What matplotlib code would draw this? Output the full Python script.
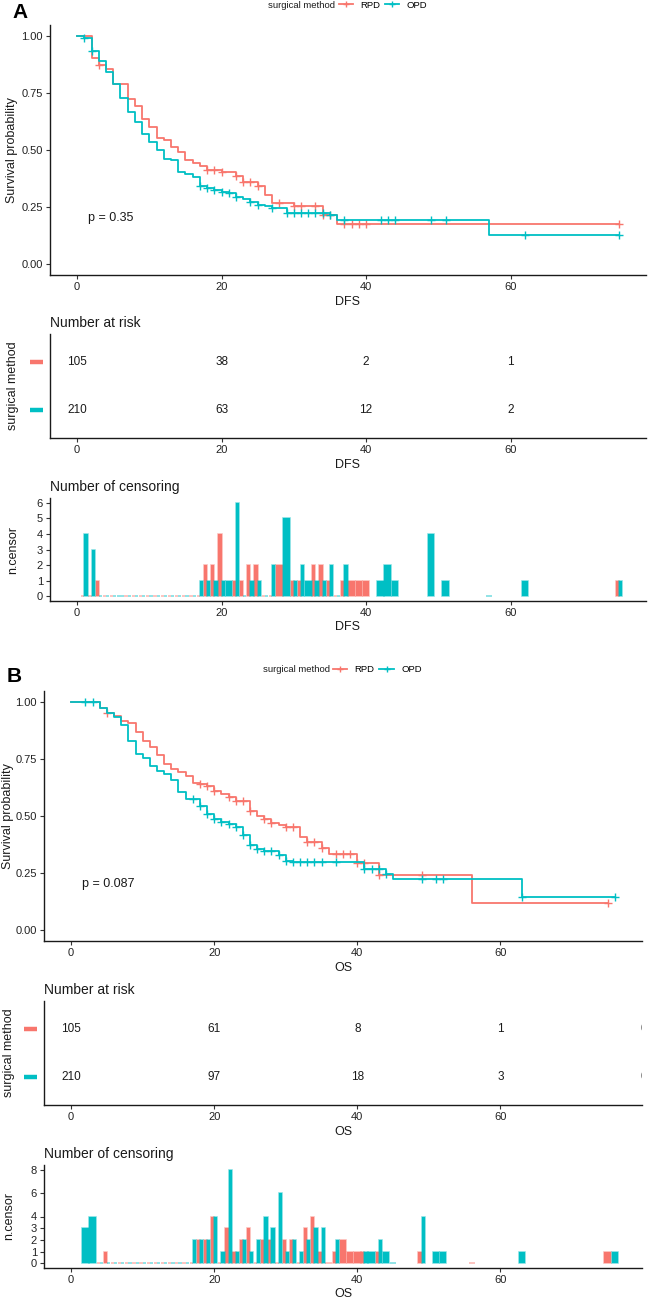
import numpy as np
import matplotlib
matplotlib.use('Agg')
import matplotlib.pyplot as plt
from matplotlib.lines import Line2D
from matplotlib.colors import to_rgba

plt.rcParams['font.family'] = ['Liberation Sans', 'DejaVu Sans']

W, H = 648, 1299
RED = '#F8766D'
CYAN = '#00BFC4'
INK = '#1a1a1a'

# ---------------- panel A : DFS ----------------
a_rpd_time = [1, 2, 3, 4, 5, 7, 8, 9, 10, 11, 12, 13, 14, 15, 16, 17, 18, 19, 20, 22,
              23, 24, 25, 26, 27, 28, 30, 31, 33, 34, 35, 36, 37, 38, 39, 40, 75]
a_rpd_surv = [1.0, 0.905, 0.876, 0.858, 0.790, 0.724, 0.695, 0.638, 0.600, 0.552,
              0.543, 0.514, 0.490, 0.457, 0.443, 0.428, 0.410, 0.410, 0.405, 0.385,
              0.358, 0.358, 0.343, 0.300, 0.268, 0.268, 0.252, 0.252, 0.252, 0.212,
              0.212, 0.175, 0.175, 0.175, 0.175, 0.175, 0.175]
a_rpd_cens = [0, 0, 1, 0, 0, 0, 0, 0, 0, 0, 0, 0, 0, 0, 0, 0, 2, 2, 4, 1,
              1, 2, 2, 0, 0, 2, 1, 1, 2, 2, 1, 0, 1, 1, 1, 1, 1]

a_opd_time = [1, 2, 3, 4, 5, 6, 7, 8, 9, 10, 11, 12, 13, 14, 15, 16, 17, 18, 19, 20,
              21, 22, 23, 24, 25, 26, 27, 29, 30, 31, 32, 33, 34, 35, 36, 37, 42, 43,
              44, 49, 51, 57, 62, 75]
a_opd_surv = [0.995, 0.937, 0.893, 0.845, 0.790, 0.727, 0.667, 0.625, 0.570, 0.535,
              0.500, 0.462, 0.455, 0.405, 0.395, 0.383, 0.340, 0.332, 0.325, 0.315,
              0.313, 0.293, 0.285, 0.270, 0.260, 0.252, 0.245, 0.225, 0.225, 0.225,
              0.225, 0.225, 0.225, 0.215, 0.190, 0.190, 0.190, 0.190, 0.190, 0.190,
              0.190, 0.124, 0.124, 0.124]
a_opd_cens = [4, 3, 0, 0, 0, 0, 0, 0, 0, 0, 0, 0, 0, 0, 0, 0, 1, 1, 1, 1,
              1, 6, 0, 1, 1, 0, 2, 5, 1, 2, 1, 1, 1, 2, 0, 2, 1, 2,
              1, 4, 1, 0, 1, 1]

a_risk_breaks = [0, 20, 40, 60]
a_risk_rpd = [105, 38, 2, 1]
a_risk_opd = [210, 63, 12, 2]
a_pval = 'p = 0.35'

# ---------------- panel B : OS ----------------
b_rpd_time = [4, 5, 6, 7, 8, 9, 10, 11, 12, 13, 14, 15, 16, 17, 18, 19, 20, 21, 22, 23,
              24, 25, 26, 27, 28, 29, 30, 31, 32, 33, 34, 35, 36, 37, 38, 39, 40, 41,
              43, 49, 56, 75]
b_rpd_surv = [0.977, 0.955, 0.940, 0.918, 0.908, 0.868, 0.832, 0.803, 0.767, 0.728,
              0.707, 0.692, 0.678, 0.646, 0.640, 0.634, 0.612, 0.597, 0.583, 0.564,
              0.564, 0.520, 0.502, 0.488, 0.471, 0.460, 0.452, 0.452, 0.408, 0.386,
              0.386, 0.360, 0.335, 0.335, 0.335, 0.335, 0.292, 0.292, 0.240, 0.240,
              0.118, 0.118]
b_rpd_cens = [0, 1, 0, 0, 0, 0, 0, 0, 0, 0, 0, 0, 0, 0, 2, 2, 4, 0, 3, 1,
              2, 3, 0, 2, 2, 0, 2, 2, 0, 3, 4, 1, 0, 1, 2, 1, 1, 1,
              1, 1, 0, 1]

b_opd_time = [2, 3, 4, 5, 6, 7, 8, 9, 10, 11, 12, 13, 14, 15, 16, 17, 18, 19, 20, 21,
              22, 23, 24, 25, 26, 27, 28, 29, 30, 31, 32, 33, 34, 35, 37, 41, 42, 43,
              44, 45, 49, 51, 52, 63, 76]
b_opd_surv = [1.0, 1.0, 0.977, 0.952, 0.935, 0.900, 0.832, 0.775, 0.754, 0.720,
              0.700, 0.685, 0.658, 0.605, 0.576, 0.576, 0.543, 0.510, 0.488, 0.474,
              0.466, 0.452, 0.418, 0.371, 0.356, 0.345, 0.345, 0.327, 0.302, 0.297,
              0.297, 0.297, 0.297, 0.297, 0.297, 0.266, 0.266, 0.266, 0.247, 0.225,
              0.225, 0.225, 0.225, 0.143, 0.143]
b_opd_cens = [3, 4, 0, 0, 0, 0, 0, 0, 0, 0, 0, 0, 0, 0, 0, 2, 2, 2, 4, 1,
              8, 1, 2, 1, 2, 4, 3, 6, 1, 2, 1, 2, 3, 3, 2, 1, 1, 2,
              1, 0, 4, 1, 1, 1, 1]

b_risk_breaks = [0, 20, 40, 60, 80]
b_risk_rpd = [105, 61, 8, 1, 0]
b_risk_opd = [210, 97, 18, 3, 0]
b_pval = 'p = 0.087'

groups = ['RPD', 'OPD']
colors = [RED, CYAN]


def fx(px):
    return px / W


def fy(py):
    return 1 - py / H


def add_axes(left, right, top, bottom):
    return fig.add_axes([fx(left), fy(bottom), (right - left) / W, (bottom - top) / H])


def style(ax, xlim, ylim):
    ax.set_xlim(*xlim)
    ax.set_ylim(*ylim)
    for s in ['top', 'right']:
        ax.spines[s].set_visible(False)
    for s in ['left', 'bottom']:
        ax.spines[s].set_linewidth(1.0)
        ax.spines[s].set_color(INK)
    ax.tick_params(length=3, width=0.8, color='#333333', labelsize=8,
                   labelcolor='#222222', pad=2)
    ax.set_xticks([0, 20, 40, 60])


def km_plot(ax, tables):
    for time, surv, cens, c in tables:
        ax.step([0] + time, [1.0] + surv, where='post', color=c, lw=1.3)
        t = np.array(time)
        s = np.array(surv)
        m = np.array(cens) > 0
        ax.plot(t[m], s[m], '+', color=c, ms=5.5, mew=1.0)


def censor_plot(ax, tables):
    # dodge like geom_bar(position = 'dodge'): shared times split the 0.9 width
    sets = [set(tab[0]) for tab in tables]
    for i, (time, surv, cens, c) in enumerate(tables):
        other = sets[1 - i]
        xs, ws = [], []
        for t in time:
            if t in other:
                xs.append(t - 0.225 if i == 0 else t + 0.225)
                ws.append(0.45)
            else:
                xs.append(t)
                ws.append(0.9)
        ax.bar(xs, cens, width=ws, color=c, edgecolor=to_rgba(c, 0.55), linewidth=1.1)


def risk_plot(ax, breaks, rpd, opd):
    # text is clipped at the panel, as ggplot does
    for t, n in zip(breaks, rpd):
        ax.text(t, 2, str(n), ha='center', va='center', fontsize=8.5, color=INK, clip_on=True)
    for t, n in zip(breaks, opd):
        ax.text(t, 1, str(n), ha='center', va='center', fontsize=8.5, color=INK, clip_on=True)
    ax.set_yticks([])


def panel(tag, tables, breaks, rpd, opd, pval, xname, xlim, cmax, cticks, L, R, tops, ylab_x, tag_xy, leg_x, leg_y):
    s_top, r_top, c_top = tops
    # survival curves
    ax1 = add_axes(L, R, s_top, s_top + 250)
    km_plot(ax1, tables)
    style(ax1, xlim, (-0.05, 1.05))
    ax1.set_yticks([0, 0.25, 0.5, 0.75, 1.0])
    ax1.set_yticklabels(['0.00', '0.25', '0.50', '0.75', '1.00'])
    ax1.text(1.5, 0.2, pval, ha='left', va='center', fontsize=9, color=INK)
    ax1.set_xlabel(xname, fontsize=9, labelpad=3, color=INK)
    fig.text(fx(ylab_x), fy(s_top + 125), 'Survival probability', rotation=90,
             ha='center', va='center', fontsize=9, color=INK)

    # number at risk
    rh = 104
    ax2 = add_axes(L, R, r_top, r_top + rh)
    style(ax2, xlim, (0.4, 2.6))
    risk_plot(ax2, breaks, rpd, opd)
    ax2.set_xlabel(xname, fontsize=9, labelpad=3, color=INK)
    ax2.set_title('Number at risk', loc='left', fontsize=10, pad=5, color=INK)
    tr = ax2.get_yaxis_transform()
    x0 = -20 / (R - L)
    x1 = -7 / (R - L)
    ax2.plot([x0, x1], [2, 2], transform=tr, color=RED, lw=3.2, clip_on=False, solid_capstyle='butt')
    ax2.plot([x0, x1], [1, 1], transform=tr, color=CYAN, lw=3.2, clip_on=False, solid_capstyle='butt')
    fig.text(fx(ylab_x + 1), fy(r_top + rh / 2), 'surgical method', rotation=90,
             ha='center', va='center', fontsize=9, color=INK)

    # number of censoring
    ch = 103
    ax3 = add_axes(L, R, c_top, c_top + ch)
    censor_plot(ax3, tables)
    style(ax3, xlim, (-cmax * 0.05, cmax * 1.05))
    ax3.set_yticks(cticks)
    ax3.set_xlabel(xname, fontsize=9, labelpad=2, color=INK)
    ax3.set_title('Number of censoring', loc='left', fontsize=10, pad=5, color=INK)
    fig.text(fx(ylab_x + 1), fy(c_top + ch / 2), 'n.censor', rotation=90,
             ha='center', va='center', fontsize=9, color=INK)

    # panel tag and legend
    fig.text(fx(tag_xy[0]), fy(tag_xy[1]), tag, fontsize=15, fontweight='bold',
             ha='center', va='center', color='black')
    fig.text(fx(leg_x), fy(leg_y), 'surgical method', fontsize=6.8, ha='left',
             va='center', color=INK)
    handles = [Line2D([], [], color=c, lw=1.3, marker='+', ms=5, mew=1.0) for c in colors]
    fig.legend(handles, groups, ncol=2, loc='center left',
               bbox_to_anchor=(fx(leg_x + 70), fy(leg_y)), frameon=False,
               fontsize=6.8, handlelength=1.5, handletextpad=0.8, columnspacing=0.5,
               borderpad=0, borderaxespad=0)


fig = plt.figure(figsize=(W / 100, H / 100), dpi=100)

tables_a = [(a_rpd_time, a_rpd_surv, a_rpd_cens, RED),
            (a_opd_time, a_opd_surv, a_opd_cens, CYAN)]
tables_b = [(b_rpd_time, b_rpd_surv, b_rpd_cens, RED),
            (b_opd_time, b_opd_surv, b_opd_cens, CYAN)]

panel('A', tables_a, a_risk_breaks, a_risk_rpd, a_risk_opd, a_pval, 'DFS',
      (-3.75, 78.75), 6, [0, 1, 2, 3, 4, 5, 6], 50, 646, (25, 334, 498),
      12.5, (20, 13), 268.5, 5)
panel('B', tables_b, b_risk_breaks, b_risk_rpd, b_risk_opd, b_pval, 'OS',
      (-3.8, 79.8), 8, [0, 1, 2, 3, 4, 6, 8], 44, 642, (691, 1001, 1165),
      8, (14.5, 677), 263, 670)

fig.savefig('out.png', dpi=100)
